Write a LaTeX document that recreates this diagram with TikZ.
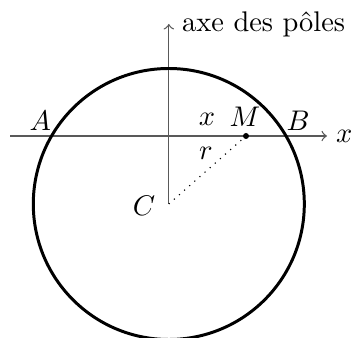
\documentclass[tikz,border=0pt]{standalone}
\usetikzlibrary{calc}
\begin{document}
\begin{tikzpicture}[x=0.352pt,y=-0.352pt,
  axis/.style={black!65,line width=0.45pt,->},
  circ/.style={line width=1.05pt},
  lbl/.style={inner sep=0pt}]
\useasboundingbox (0,0) rectangle (352,337);
\clip (0,0) rectangle (352,337);
% points
\coordinate (C) at (168.8,204);
\coordinate (O) at (168.8,136);
\coordinate (M) at (246,136);
\coordinate (L) at (10,136);
\coordinate (R) at (327,136);
\coordinate (T) at (168.8,24);
\coordinate (A) at (51.5,136);
\coordinate (B) at (286.1,136);
% axes
\draw[axis] (L) -- (R) node[right, black, inner sep=3pt] (xl) {$x$};
\draw[axis] (C) -- (T) node[right, black, inner sep=3pt, xshift=1.5pt] (pl) {axe des pôles};
% circle
\draw[circ] (C) circle[radius=135.5];
% radius
\draw[dotted, line width=0.4pt] (C) -- (M);
\fill (M) circle[radius=3];
% labels
\node[lbl, anchor=south east] (la) at ($(A)+(0,-5)$) {$A$};
\node[lbl, anchor=south west] (lb) at ($(B)+(0,-5)$) {$B$};
\node[lbl, anchor=south] (lm) at ($(M)+(-1,-9)$) {$M$};
\node[lbl] (lx) at (207,119) {$x$};
\node[lbl] (lr) at (206,153) {$r$};
\node[lbl, anchor=east] (lc) at ($(C)+(-13,2)$) {$C$};
\end{tikzpicture}
\end{document}
